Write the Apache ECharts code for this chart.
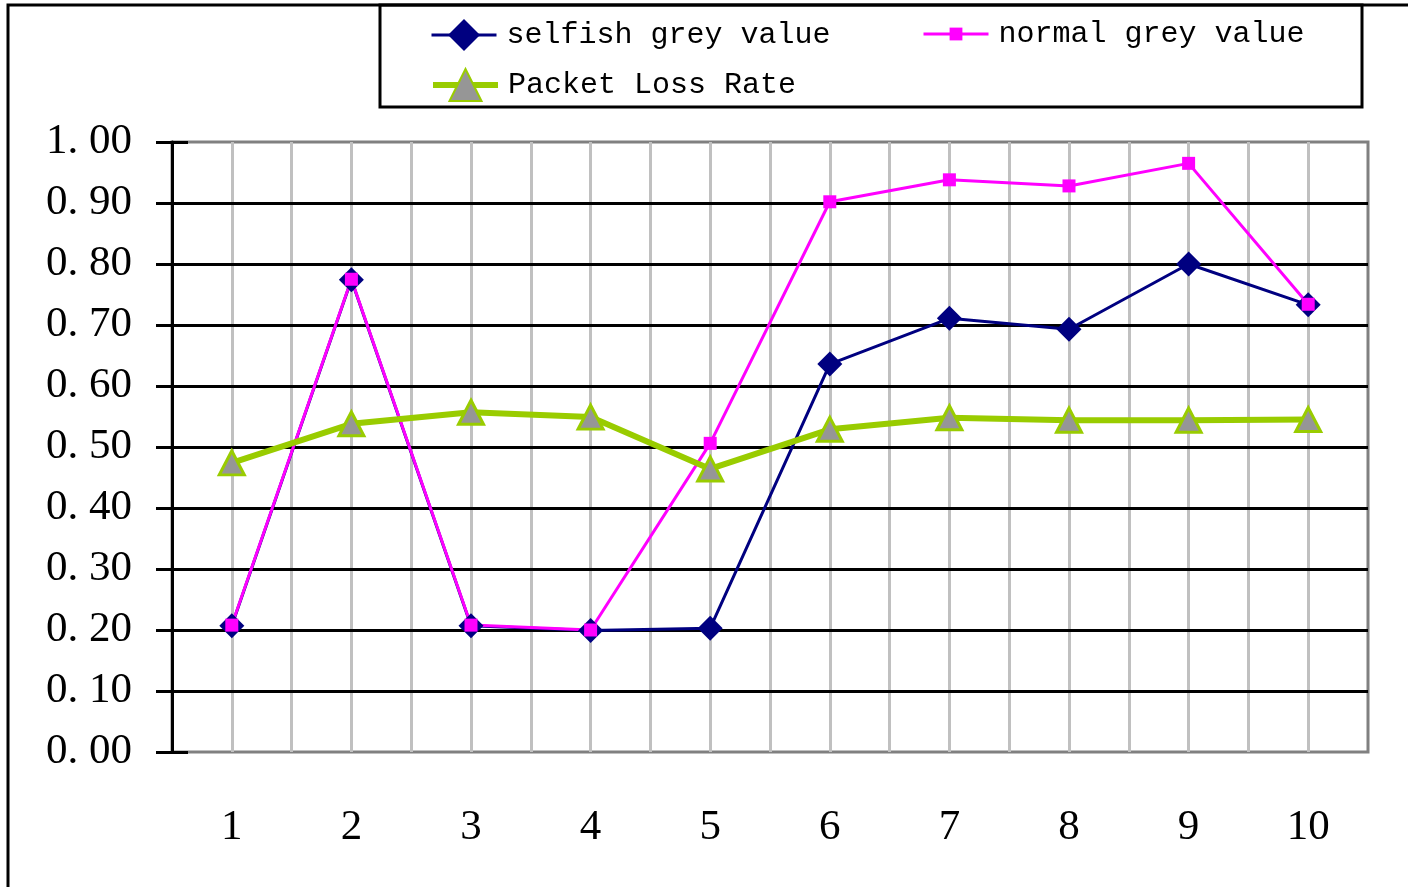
<!DOCTYPE html>
<html>
<head>
<meta charset="utf-8">
<title>Grey value and packet loss rate</title>
<script src="https://cdn.jsdelivr.net/npm/echarts@6/dist/echarts.min.js"></script>
<style>
  html, body { margin: 0; padding: 0; background: #ffffff; }
  #chart { width: 1408px; height: 887px; }
</style>
</head>
<body>
<div id="chart"></div>
<script>
// Node index on the horizontal axis
const categories = [1, 2, 3, 4, 5, 6, 7, 8, 9, 10];

// Series values
const selfishGrey = [0.207, 0.774, 0.207, 0.199, 0.203, 0.636, 0.711, 0.693, 0.800, 0.733];
const normalGrey  = [0.208, 0.775, 0.208, 0.200, 0.506, 0.902, 0.938, 0.928, 0.965, 0.734];
const packetLoss  = [0.474, 0.538, 0.557, 0.549, 0.464, 0.529, 0.548, 0.544, 0.544, 0.545];

// Vertical axis tick labels (0.0 .. 1.0 step 0.1)
const yTickLabels = ['0. 00', '0. 10', '0. 20', '0. 30', '0. 40', '0. 50',
                     '0. 60', '0. 70', '0. 80', '0. 90', '1. 00'];

const seriesNames = ['selfish grey value', 'normal grey value', 'Packet Loss Rate'];

const toPoints = arr => categories.map((c, i) => [c, arr[i]]);

const chart = echarts.init(document.getElementById('chart'), null, { renderer: 'canvas' });

const GRID = { left: 172, top: 142, width: 1196, height: 610 };
const labelFont = { fontFamily: 'Liberation Serif', fontSize: 43, color: '#000000' };
const legendText = { fontFamily: 'Liberation Mono', fontSize: 30, color: '#000000', lineHeight: 30, padding: [0, 0, 0, 5] };

// one legend block per entry so each icon keeps its own marker size
const legendItem = (name, left, top, itemHeight) => ({
  data: [name],
  left, top, padding: 0,
  itemWidth: 65, itemHeight,
  lineStyle: { width: 'inherit' },
  textStyle: legendText,
  selectedMode: false
});

chart.setOption({
  backgroundColor: '#ffffff',
  animation: false,
  grid: {
    left: GRID.left, top: GRID.top, width: GRID.width, height: GRID.height,
    show: true, borderColor: '#808080', borderWidth: 3, backgroundColor: 'transparent'
  },
  legend: [
    legendItem(seriesNames[0], 430, 19, 40),
    legendItem(seriesNames[1], 922, 19, 16),
    legendItem(seriesNames[2], 430, 68, 40)
  ],
  xAxis: {
    type: 'value',
    min: 0.5, max: 10.5, interval: 0.5,
    axisLine: { show: false },
    axisTick: { show: false },
    splitLine: {
      show: true, showMinLine: false, showMaxLine: false,
      lineStyle: { color: '#c0c0c0', width: 3 }
    },
    axisLabel: {
      ...labelFont,
      margin: 54,
      formatter: v => {
        const idx = categories.indexOf(v);
        return idx >= 0 ? String(categories[idx]) : '';
      }
    }
  },
  yAxis: [
    {
      type: 'value',
      min: 0, max: 1, interval: 0.1,
      position: 'left',
      z: 1,
      axisLine: { show: true, lineStyle: { color: '#000000', width: 3 } },
      axisTick: { show: true, inside: false, length: 16, lineStyle: { color: '#000000', width: 3 } },
      splitLine: {
        show: true, showMinLine: false, showMaxLine: false,
        lineStyle: { color: '#000000', width: 3 }
      },
      axisLabel: {
        ...labelFont,
        margin: 40,
        padding: [12, 0, 0, 0],
        formatter: v => yTickLabels[Math.round(v * 10)]
      }
    },
    {
      type: 'value',
      min: 0, max: 1, interval: 0.1,
      position: 'left', offset: 0,
      z: 1,
      axisLine: { show: false },
      axisTick: { show: true, inside: true, length: 16, lineStyle: { color: '#000000', width: 3 } },
      splitLine: { show: false },
      axisLabel: { show: false }
    }
  ],
  series: [
    {
      name: seriesNames[0],
      type: 'line',
      data: toPoints(selfishGrey),
      symbol: 'diamond',
      symbolSize: 25,
      lineStyle: { color: '#000080', width: 3 },
      itemStyle: { color: '#000080', borderWidth: 0 }
    },
    {
      name: seriesNames[1],
      type: 'line',
      data: toPoints(normalGrey),
      symbol: 'rect',
      symbolSize: 13,
      lineStyle: { color: '#ff00ff', width: 3 },
      itemStyle: { color: '#ff00ff', borderWidth: 0 }
    },
    {
      name: seriesNames[2],
      type: 'line',
      data: toPoints(packetLoss),
      symbol: 'triangle',
      symbolSize: [25, 24],
      lineStyle: { color: '#99cc00', width: 6 },
      itemStyle: { color: '#969696', borderColor: '#99cc00', borderWidth: 3 }
    }
  ],
  graphic: [
    {
      // outer chart frame (left and top edges)
      type: 'polyline',
      shape: { points: [[8, 900], [8, 5], [1410, 5]] },
      style: { stroke: '#000000', lineWidth: 3, fill: null },
      silent: true
    },
    {
      // legend frame
      type: 'rect',
      shape: { x: 380, y: 5, width: 982, height: 102 },
      style: { stroke: '#000000', lineWidth: 3, fill: null },
      silent: true
    }
  ]
});
</script>
</body>
</html>
